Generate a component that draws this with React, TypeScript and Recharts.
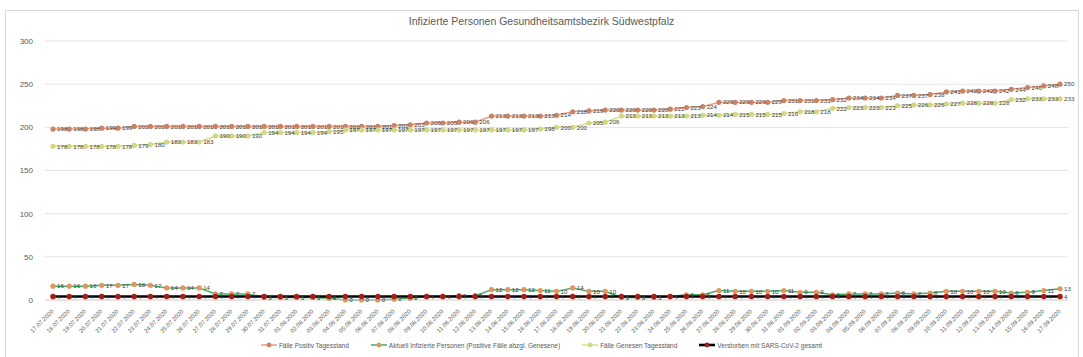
import React from 'react';
import { LineChart, Line, XAxis, YAxis, CartesianGrid } from 'recharts';

const dates = [
  '17.07.2020', '18.07.2020', '19.07.2020', '20.07.2020', '21.07.2020', '22.07.2020', '23.07.2020',
  '24.07.2020', '25.07.2020', '26.07.2020', '27.07.2020', '28.07.2020', '29.07.2020', '30.07.2020',
  '31.07.2020', '01.08.2020', '02.08.2020', '03.08.2020', '04.08.2020', '05.08.2020', '06.08.2020',
  '07.08.2020', '08.08.2020', '09.08.2020', '10.08.2020', '11.08.2020', '12.08.2020', '13.08.2020',
  '14.08.2020', '15.08.2020', '16.08.2020', '17.08.2020', '18.08.2020', '19.08.2020', '20.08.2020',
  '21.08.2020', '22.08.2020', '23.08.2020', '24.08.2020', '25.08.2020', '26.08.2020', '27.08.2020',
  '28.08.2020', '29.08.2020', '30.08.2020', '31.08.2020', '01.09.2020', '02.09.2020', '03.09.2020',
  '04.09.2020', '05.09.2020', '06.09.2020', '07.09.2020', '08.09.2020', '09.09.2020', '10.09.2020',
  '11.09.2020', '12.09.2020', '13.09.2020', '14.09.2020', '15.09.2020', '16.09.2020', '17.09.2020',
];

const positiv = [
  198, 198, 198, 199, 199, 201, 201, 201, 201, 201, 201, 201, 201, 201, 201, 201, 201, 201, 201, 201, 201,
  202, 203, 205, 205, 206, 206, 213, 213, 213, 213, 214, 218, 219, 220, 220, 220, 220, 221, 223, 224, 229,
  229, 229, 229, 231, 231, 231, 232, 234, 234, 234, 237, 237, 238, 241, 242, 242, 242, 244, 246, 248, 250,
];

const aktuell = [
  16, 16, 16, 17, 17, 18, 17, 14, 14, 14, 7, 7, 7, 3, 3, 3, 3, 2, 0, 0, 0,
  1, 2, 4, 4, 5, 5, 12, 12, 12, 11, 10, 14, 10, 10, 3, 3, 3, 4, 6, 6, 11,
  10, 10, 10, 11, 9, 9, 6, 7, 7, 7, 8, 7, 8, 10, 10, 10, 10, 8, 9, 11, 13,
];

const genesen = [
  178, 178, 178, 178, 178, 179, 180, 183, 183, 183, 190, 190, 190, 194, 194, 194, 194, 195, 197, 197, 197,
  197, 197, 197, 197, 197, 197, 197, 197, 197, 198, 200, 200, 205, 206, 213, 213, 213, 213, 213, 214, 214,
  215, 215, 215, 216, 218, 218, 222, 223, 223, 223, 225, 226, 226, 227, 228, 228, 228, 232, 233, 233, 233,
];

const verstorben = [
  4, 4, 4, 4, 4, 4, 4, 4, 4, 4, 4, 4, 4, 4, 4, 4, 4, 4, 4, 4, 4,
  4, 4, 4, 4, 4, 4, 4, 4, 4, 4, 4, 4, 4, 4, 4, 4, 4, 4, 4, 4, 4,
  4, 4, 4, 4, 4, 4, 4, 4, 4, 4, 4, 4, 4, 4, 4, 4, 4, 4, 4, 4, 4,
];

const yTicks = [0, 50, 100, 150, 200, 250, 300];

const title = 'Infizierte Personen Gesundheitsamtsbezirk Südwestpfalz';

const seriesNames = [
  'Fälle Positiv Tagesstand',
  'Aktuell Infizierte Personen (Positive Fälle abzgl. Genesene)',
  'Fälle Genesen Tagesstand',
  'Verstorben mit SARS-CoV-2 gesamt',
];

const data = dates.map((d, i) => ({
  date: d,
  positiv: positiv[i],
  aktuell: aktuell[i],
  genesen: genesen[i],
  verstorben: verstorben[i],
}));

const FONT = '"Liberation Sans", Arial, sans-serif';

const series = [
  { key: 'positiv', name: seriesNames[0], line: '#E79C7C', marker: '#C98467', width: 1.5, r: 2.6 },
  { key: 'aktuell', name: seriesNames[1], line: '#3FAE6A', marker: '#E3955E', width: 1.5, r: 2.6 },
  { key: 'genesen', name: seriesNames[2], line: '#D9DC90', marker: '#D3D682', width: 1.5, r: 2.6 },
  { key: 'verstorben', name: seriesNames[3], line: '#000000', marker: '#A0201C', width: 2.6, r: 2.8 },
];

const makeDot = (color: string, r: number) => (p: any) => (
  <circle key={`d-${p.index}`} cx={p.cx} cy={p.cy} r={r} fill={color} stroke="none" />
);

const makeLabel = () => (p: any) => (
  <text
    key={`l-${p.index}`}
    x={p.x + 4}
    y={p.y}
    dy={2.2}
    fontSize={6.2}
    fontFamily={FONT}
    fill="#404040"
  >
    {p.value}
  </text>
);

const XTick = (props: any) => {
  const { x, y, payload } = props;
  const tx = x + 1;
  const ty = y + 4;
  return (
    <text
      x={tx}
      y={ty}
      transform={`rotate(-45, ${tx}, ${ty})`}
      textAnchor="end"
      fontSize={6}
      fontFamily={FONT}
      fill="#595959"
    >
      {payload.value}
    </text>
  );
};

const LegendIcon = ({ line, marker, w }: { line: string; marker: string; w: number }) => (
  <svg width={16} height={8} style={{ display: 'inline-block', verticalAlign: 'middle' }}>
    <line x1={0} y1={4} x2={16} y2={4} stroke={line} strokeWidth={w} />
    <circle cx={8} cy={4} r={2.4} fill={marker} />
  </svg>
);

export default function App() {
  return (
    <div style={{ position: 'absolute', left: 0, top: 0, width: 1083, height: 357, background: '#fff', fontFamily: FONT }}>
      <div
        style={{
          position: 'absolute',
          left: 5,
          top: 10,
          width: 1074,
          height: 350,
          border: '1px solid #D9D9D9',
          boxSizing: 'border-box',
        }}
      />
      <div
        style={{
          position: 'absolute',
          left: 0,
          top: 15,
          width: 1083,
          textAlign: 'center',
          fontSize: 10.5,
          color: '#595959',
        }}
      >
        {title}
      </div>
      <div style={{ position: 'absolute', left: 0, top: 0 }}>
        <LineChart width={1083} height={357} data={data} margin={{ top: 41, right: 15, bottom: 27, left: 0 }}>
          <CartesianGrid vertical={false} stroke="#E3E3E3" />
          <YAxis
            width={45}
            domain={[0, 300]}
            ticks={yTicks}
            axisLine={false}
            tickLine={false}
            tick={{ fontSize: 8, fill: '#595959', fontFamily: FONT }}
            tickMargin={6}
            interval={0}
          />
          <XAxis
            dataKey="date"
            interval={0}
            tickLine={false}
            axisLine={{ stroke: '#D9D9D9' }}
            padding={{ left: 8, right: 8 }}
            tick={<XTick />}
            height={30}
          />
          {series.map((s) => (
            <Line
              key={s.key}
              type="linear"
              dataKey={s.key}
              stroke={s.line}
              strokeWidth={s.width}
              dot={makeDot(s.marker, s.r)}
              activeDot={false}
              isAnimationActive={false}
              label={makeLabel()}
            />
          ))}
        </LineChart>
      </div>
      <div
        style={{
          position: 'absolute',
          left: 0,
          top: 341,
          width: 1083,
          display: 'flex',
          justifyContent: 'center',
          alignItems: 'center',
          fontSize: 6.5,
          color: '#595959',
        }}
      >
        {series.map((s) => (
          <span key={s.key} style={{ display: 'inline-flex', alignItems: 'center', margin: '0 11px' }}>
            <LegendIcon line={s.line} marker={s.marker} w={s.width} />
            <span style={{ marginLeft: 2 }}>{s.name}</span>
          </span>
        ))}
      </div>
    </div>
  );
}
